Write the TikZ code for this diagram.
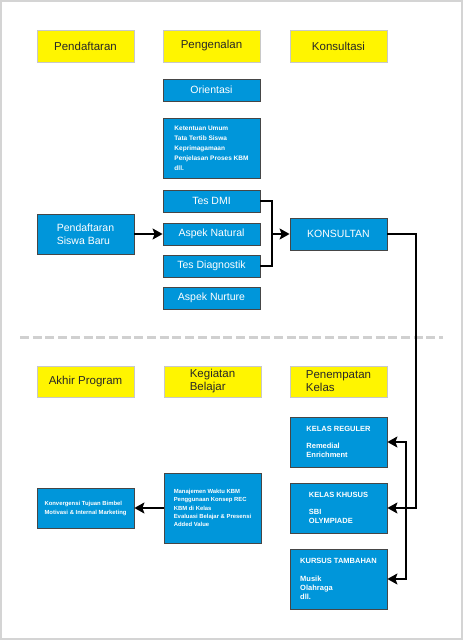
\documentclass[tikz,border=0pt]{standalone}
\usepackage{fontspec}
\setmainfont{Liberation Sans}
\usetikzlibrary{arrows.meta}
\definecolor{boxblue}{RGB}{0,150,218}
\definecolor{boxyellow}{RGB}{255,245,0}
\definecolor{yborder}{RGB}{200,200,200}
\definecolor{bborder}{RGB}{70,70,70}
\definecolor{framegray}{RGB}{212,212,212}
\definecolor{dashgray}{RGB}{208,208,208}
\definecolor{ytext}{RGB}{40,40,40}
\begin{document}
\begin{tikzpicture}[x=1pt,y=-1pt,
  ybox/.style={draw=yborder, line width=0.8pt, fill=boxyellow, text=ytext,
    font=\fontsize{11.5}{13}\selectfont, minimum width=97pt, minimum height=32pt,
    inner sep=0pt, align=left},
  bbox/.style={draw=bborder, line width=0.8pt, fill=boxblue, text=white,
    minimum width=97pt, inner sep=0pt, align=left, font=\fontsize{10.5}{12.5}\selectfont},
  smallA/.style={font=\bfseries\fontsize{6.5}{10}\selectfont},
  smallB/.style={font=\bfseries\fontsize{7.5}{9}\selectfont},
  smallC/.style={font=\bfseries\fontsize{5.9}{8.3}\selectfont},
  smallD/.style={font=\bfseries\fontsize{5.9}{9}\selectfont},
  conn/.style={line width=1.6pt, black},
  tipend/.style={-{Stealth[length=10pt,width=11pt,inset=2pt]}},
  tipboth/.style={{Stealth[length=10pt,width=11pt,inset=2pt]}-{Stealth[length=10pt,width=11pt,inset=2pt]}}
]
\useasboundingbox (0,0) rectangle (463,640);
\draw[framegray, line width=2pt] (1,1) rectangle (462,639);

% top section headers
\node[ybox] (pend) at (85.5,46) {Pendaftaran};
\node[ybox] (peng) at (211.5,46) {Pengenalan};
\node[ybox] (konsy) at (338.5,46) {Konsultasi};

% blue boxes, top section
\node[bbox, minimum height=22pt] (orient) at (211.5,90) {Orientasi};
\node[bbox, smallA, minimum height=60pt] (ketentuan) at (211.5,148)
  {Ketentuan Umum\\Tata Tertib Siswa\\Keprimagamaan\\Penjelasan Proses KBM\\dll.};
\node[bbox, minimum height=22pt] (dmi) at (211.5,201) {Tes DMI};
\node[bbox, minimum height=22pt] (natural) at (211.5,234) {Aspek Natural};
\node[bbox, minimum height=22pt] (diag) at (211.5,266) {Tes Diagnostik};
\node[bbox, minimum height=22pt] (nurture) at (211.5,298) {Aspek Nurture};
\node[bbox, minimum height=40pt] (psb) at (85.5,234) {Pendaftaran\\Siswa Baru};
\node[bbox, minimum height=32pt] (konsultan) at (338.5,234) {KONSULTAN};

% separator
\coordinate (sepL) at (20,337);
\coordinate (sepR) at (443,337);
\draw[dashgray, line width=3pt, dash pattern=on 9pt off 3.7pt] (sepL) -- (sepR);

% bottom section headers
\node[ybox, minimum height=31pt] (akhir) at (85.5,381.5) {Akhir Program};
\node[ybox, minimum height=31pt] (kegiatan) at (212.5,381.5) {Kegiatan\\Belajar};
\node[ybox, minimum height=31pt] (penempatan) at (338.5,381.5) {Penempatan\\Kelas};

% bottom blue boxes
\node[bbox, smallB, minimum height=50pt] (reguler) at (338.5,442)
  {KELAS REGULER\\[8pt]Remedial\\Enrichment};
\node[bbox, smallB, minimum height=50pt] (khusus) at (338.5,508)
  {KELAS KHUSUS\\[8pt]SBI\\OLYMPIADE};
\node[bbox, smallB, minimum height=60pt] (kursus) at (338.5,579)
  {KURSUS TAMBAHAN\\[9pt]Musik\\Olahraga\\dll.};
\node[bbox, smallD, minimum height=40pt] (konv) at (85.5,508)
  {Konvergensi Tujuan Bimbel\\Motivasi \& Internal Marketing};
\node[bbox, smallC, minimum height=70pt] (manaj) at (212.5,508)
  {Manajemen Waktu KBM\\Penggunaan Konsep REC\\KBM di Kelas\\Evaluasi Belajar \& Presensi\\Added Value};

% connectors
\coordinate (jn) at (272,234);
\coordinate (kdrop) at (416,508);
\coordinate (vsplit) at (406,508);
\draw[conn, tipend] (psb.east) -- (natural.west);
\draw[conn] (dmi.east) -| (jn) |- (diag.east);
\draw[conn, tipend] (jn) -- (konsultan.west);
\draw[conn, tipend] (konsultan.east) -| (kdrop) -- (khusus.east);
\draw[conn, tipboth] (reguler.east) -| (vsplit) |- (kursus.east);
\draw[conn, tipend] (manaj.west) -- (konv.east);
\end{tikzpicture}
\end{document}
